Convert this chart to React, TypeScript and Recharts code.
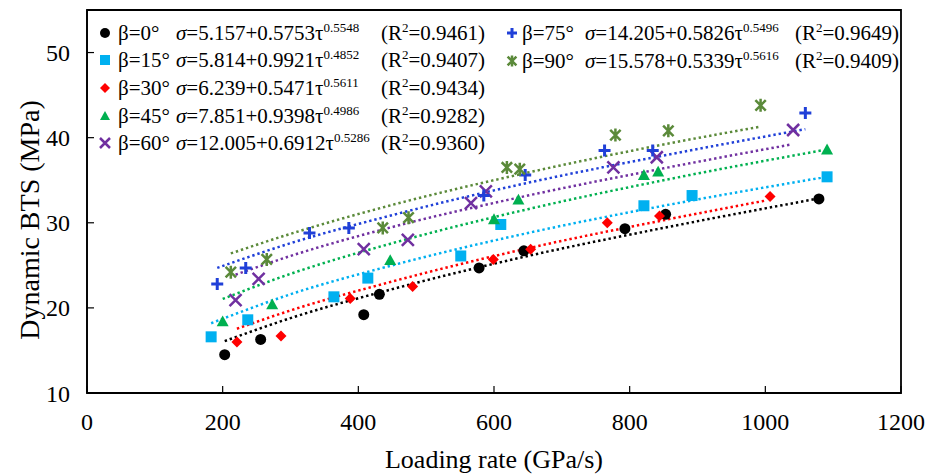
import React from "react";
import { ComposedChart, Scatter, Line, XAxis, YAxis, ReferenceArea } from "recharts";

// measured points: loading rate (GPa/s) and dynamic BTS (MPa) per bedding angle
const RATE_0 = [203, 256, 408, 431, 578, 644, 793, 853, 1079];
const BTS_0 = [14.5, 16.3, 19.2, 21.6, 24.7, 26.7, 29.3, 31.0, 32.8];
const RATE_15 = [183, 237, 364, 414, 551, 610, 821, 892, 1091];
const BTS_15 = [16.6, 18.6, 21.3, 23.5, 26.1, 29.8, 32.0, 33.2, 35.4];
const RATE_30 = [221, 286, 388, 480, 599, 654, 767, 844, 1007];
const BTS_30 = [16.0, 16.7, 21.1, 22.5, 25.7, 26.9, 30.0, 30.8, 33.1];
const RATE_45 = [200, 273, 447, 600, 636, 821, 842, 1091];
const BTS_45 = [18.4, 20.4, 25.6, 30.4, 32.7, 35.6, 36.0, 38.6];
const RATE_60 = [219, 253, 408, 473, 566, 588, 776, 840, 1041];
const BTS_60 = [20.9, 23.4, 26.9, 28.0, 32.3, 33.7, 36.5, 37.7, 40.9];
const RATE_75 = [192, 234, 328, 386, 585, 646, 763, 834, 1059];
const BTS_75 = [22.8, 24.7, 28.8, 29.4, 33.2, 35.6, 38.5, 38.5, 42.9];
const RATE_90 = [212, 265, 436, 474, 619, 638, 779, 857, 993];
const BTS_90 = [24.2, 25.7, 29.4, 30.6, 36.5, 36.3, 40.3, 40.8, 43.8];

// dotted fit curves
const FIT_RATE_0 = [203, 300, 450, 650, 850, 1078];
const FIT_BTS_0 = [16.1, 18.8, 22.2, 26.1, 29.4, 32.85];
const FIT_RATE_15 = [183, 300, 450, 650, 850, 1083];
const FIT_BTS_15 = [18.2, 21.6, 25.0, 28.8, 32.0, 35.3];
const FIT_RATE_30 = [221, 300, 450, 650, 850, 1000];
const FIT_BTS_30 = [17.55, 19.7, 23.1, 27.0, 30.3, 32.6];
const FIT_RATE_45 = [200, 300, 450, 650, 850, 1083];
const FIT_BTS_45 = [21.05, 24.0, 27.6, 31.6, 35.0, 38.5];
const FIT_RATE_60 = [219, 300, 450, 650, 850, 1038];
const FIT_BTS_60 = [23.9, 26.1, 29.5, 33.2, 36.4, 39.2];
const FIT_RATE_75 = [192, 300, 450, 650, 850, 1059];
const FIT_BTS_75 = [24.7, 27.6, 30.9, 34.7, 37.9, 41.0];
const FIT_RATE_90 = [212, 300, 450, 650, 850, 993];
const FIT_BTS_90 = [26.4, 28.7, 32.1, 35.9, 39.2, 41.3];

const ANGLES = ["β=0°", "β=15°", "β=30°", "β=45°", "β=60°", "β=75°", "β=90°"];
const EQ_BASE = [
  "=5.157+0.5753τ",
  "=5.814+0.9921τ",
  "=6.239+0.5471τ",
  "=7.851+0.9398τ",
  "=12.005+0.6912τ",
  "=14.205+0.5826τ",
  "=15.578+0.5339τ",
];
const EQ_EXP = ["0.5548", "0.4852", "0.5611", "0.4986", "0.5286", "0.5496", "0.5616"];
const R2 = ["0.9461", "0.9407", "0.9434", "0.9282", "0.9360", "0.9649", "0.9409"];

const X_TICKS = [0, 200, 400, 600, 800, 1000, 1200];
const Y_TICKS = [10, 20, 30, 40, 50];

const zip = (xs: number[], ys: number[]) => xs.map((x, i) => ({ x, y: ys[i] }));

const SERIES = [
  { pts: zip(RATE_0, BTS_0), fit: zip(FIT_RATE_0, FIT_BTS_0), color: "#000000", kind: "circle", size: 11 },
  { pts: zip(RATE_15, BTS_15), fit: zip(FIT_RATE_15, FIT_BTS_15), color: "#00B0F0", kind: "square", size: 11 },
  { pts: zip(RATE_30, BTS_30), fit: zip(FIT_RATE_30, FIT_BTS_30), color: "#FF0000", kind: "diamond", size: 11 },
  { pts: zip(RATE_45, BTS_45), fit: zip(FIT_RATE_45, FIT_BTS_45), color: "#00B050", kind: "triangle", size: 12 },
  { pts: zip(RATE_60, BTS_60), fit: zip(FIT_RATE_60, FIT_BTS_60), color: "#7030A0", kind: "x", size: 12 },
  { pts: zip(RATE_75, BTS_75), fit: zip(FIT_RATE_75, FIT_BTS_75), color: "#2040D8", kind: "plus", size: 12 },
  { pts: zip(RATE_90, BTS_90), fit: zip(FIT_RATE_90, FIT_BTS_90), color: "#5B8A3A", kind: "star", size: 13 },
];

const FONT = "'Liberation Serif', 'Times New Roman', serif";

const Marker = ({ kind, cx, cy, color, s }: any) => {
  const h = s / 2;
  switch (kind) {
    case "circle":
      return <circle cx={cx} cy={cy} r={h} fill={color} />;
    case "square":
      return <rect x={cx - h} y={cy - h} width={s} height={s} fill={color} />;
    case "diamond":
      return (
        <polygon
          points={`${cx},${cy - h} ${cx + h},${cy} ${cx},${cy + h} ${cx - h},${cy}`}
          fill={color}
        />
      );
    case "triangle":
      return (
        <polygon
          points={`${cx},${cy - h} ${cx + h},${cy + h * 0.8} ${cx - h},${cy + h * 0.8}`}
          fill={color}
        />
      );
    case "x":
      return (
        <path
          d={`M${cx - h},${cy - h}L${cx + h},${cy + h}M${cx - h},${cy + h}L${cx + h},${cy - h}`}
          stroke={color}
          strokeWidth={2.5}
        />
      );
    case "plus":
      return (
        <path
          d={`M${cx - h},${cy}L${cx + h},${cy}M${cx},${cy - h}L${cx},${cy + h}`}
          stroke={color}
          strokeWidth={3}
        />
      );
    default: {
      const k = h * 0.8;
      return (
        <path
          d={`M${cx - k},${cy - k}L${cx + k},${cy + k}M${cx - k},${cy + k}L${cx + k},${cy - k}M${cx},${cy - h}L${cx},${cy + h}`}
          stroke={color}
          strokeWidth={2.5}
        />
      );
    }
  }
};

const sup = { fontSize: 13, position: "relative" as const, top: -8 };

const LegendRow = ({ i, top, left }: { i: number; top: number; left: number[] }) => {
  const s = SERIES[i];
  const text = { position: "absolute" as const, top: top - 12, lineHeight: "24px", whiteSpace: "nowrap" as const };
  return (
    <>
      <svg style={{ position: "absolute", left: left[0] - 7, top: top - 7 }} width={14} height={14}>
        <Marker kind={s.kind} cx={7} cy={7} color={s.color} s={s.kind === "star" ? 11 : 10} />
      </svg>
      <span style={{ ...text, left: left[1] }}>{ANGLES[i]}</span>
      <span style={{ ...text, left: left[2] }}>
        <i>σ</i>
        {EQ_BASE[i]}
        <span style={sup}>{EQ_EXP[i]}</span>
      </span>
      <span style={{ ...text, left: left[3] }}>
        (R<span style={sup}>2</span>={R2[i]})
      </span>
    </>
  );
};

const COL1 = [105, 118, 176, 381];
const COL2 = [512, 522, 585, 795];
const ROWS = [33, 60, 88, 116, 143];

export default function App() {
  return (
    <div
      style={{
        position: "absolute",
        left: 0,
        top: 0,
        width: 928,
        height: 475,
        background: "#fff",
        fontFamily: FONT,
        color: "#000",
        fontSize: 21,
      }}
    >
      <ComposedChart width={928} height={475} margin={{ top: 10, right: 27, bottom: 0, left: 0 }}>
        <XAxis
          type="number"
          dataKey="x"
          domain={[0, 1200]}
          ticks={X_TICKS}
          allowDataOverflow
          height={82}
          tickSize={-7}
          tickMargin={27}
          axisLine={{ stroke: "#000", strokeWidth: 1.5 }}
          tickLine={{ stroke: "#000", strokeWidth: 1.2 }}
          tick={{ fill: "#000", fontSize: 24, fontFamily: FONT }}
        />
        <YAxis
          type="number"
          dataKey="y"
          domain={[10, 55]}
          ticks={Y_TICKS}
          allowDataOverflow
          width={87}
          tickSize={-7}
          tickMargin={24}
          axisLine={{ stroke: "#000", strokeWidth: 1.5 }}
          tickLine={{ stroke: "#000", strokeWidth: 1.2 }}
          tick={{ fill: "#000", fontSize: 24, fontFamily: FONT }}
        />
        <ReferenceArea x1={0} x2={1200} y1={10} y2={55} fill="none" stroke="#000" strokeWidth={1.8} />
        {SERIES.map((s, i) => (
          <Line
            key={`fit-${i}`}
            data={s.fit}
            dataKey="y"
            type="monotone"
            stroke={s.color}
            strokeWidth={2.5}
            strokeDasharray="2.4 2.9"
            dot={false}
            activeDot={false}
            isAnimationActive={false}
          />
        ))}
        {SERIES.map((s, i) => (
          <Scatter
            key={`pts-${i}`}
            data={s.pts}
            dataKey="y"
            isAnimationActive={false}
            shape={(p: any) => <Marker kind={s.kind} cx={p.cx} cy={p.cy} color={s.color} s={s.size} />}
          />
        ))}
      </ComposedChart>

      {ROWS.map((r, i) => (
        <LegendRow key={`l1-${i}`} i={i} top={r} left={COL1} />
      ))}
      <LegendRow i={5} top={33} left={COL2} />
      <LegendRow i={6} top={61} left={COL2} />

      <div
        style={{
          position: "absolute",
          left: 30,
          top: 220,
          transform: "translate(-50%, -50%) rotate(-90deg)",
          fontSize: 28,
          whiteSpace: "nowrap",
        }}
      >
        Dynamic BTS (MPa)
      </div>
      <div
        style={{
          position: "absolute",
          left: 494,
          top: 460,
          transform: "translate(-50%, -50%)",
          fontSize: 26,
          whiteSpace: "nowrap",
        }}
      >
        Loading rate (GPa/s)
      </div>
    </div>
  );
}
